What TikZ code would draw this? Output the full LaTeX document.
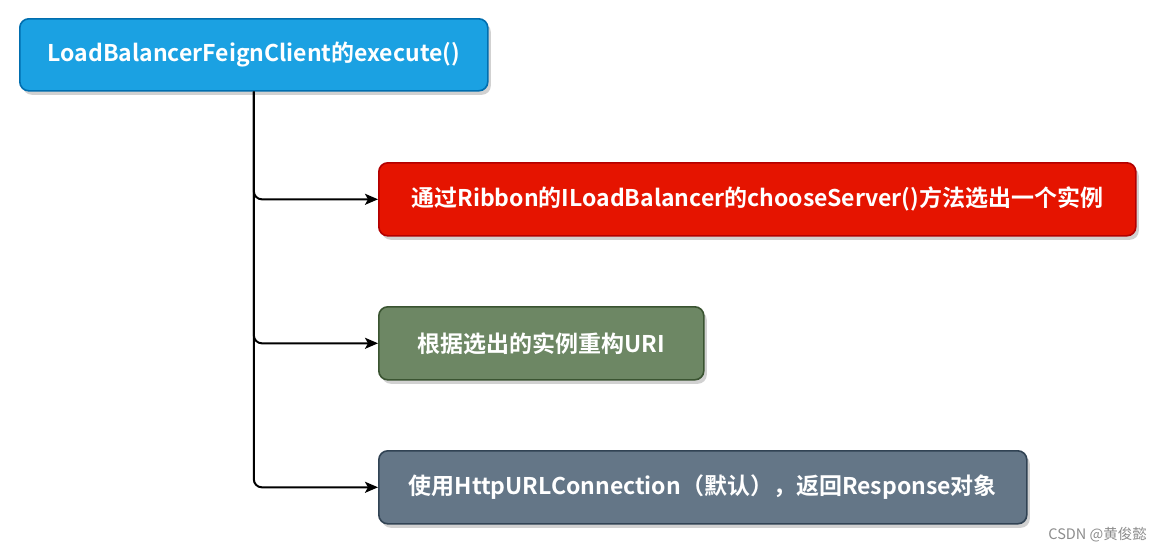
\documentclass[tikz,border=0pt]{standalone}
\usepackage{fontspec}
\setmainfont{Noto Sans CJK SC}[BoldFont={Noto Sans CJK SC Bold}]
\usetikzlibrary{shadows,arrows.meta}
\definecolor{bluefill}{HTML}{1BA1E2}
\definecolor{blueline}{HTML}{006EAF}
\definecolor{redfill}{HTML}{E51400}
\definecolor{redline}{HTML}{B20000}
\definecolor{greenfill}{HTML}{6D8764}
\definecolor{greenline}{HTML}{3A5431}
\definecolor{grayfill}{HTML}{647687}
\definecolor{grayline}{HTML}{314354}
\tikzset{
  box/.style={rounded corners=9pt, line width=1.6pt, minimum height=73pt, anchor=north west,
    inner sep=0pt, font=\fontsize{23}{26}\selectfont\bfseries, text=white,
    drop shadow={shadow xshift=3pt, shadow yshift=-4pt, opacity=0.3, fill=black!60}},
  conn/.style={-{Stealth[length=13pt,width=11pt,inset=3pt]}, line width=2pt, rounded corners=8pt}
}
\begin{document}
\begin{tikzpicture}[x=1pt,y=-1pt]
\useasboundingbox (0,0) rectangle (1163,552);
\node[box, fill=bluefill, draw=blueline, minimum width=468pt, minimum height=72pt] (top) at (19,18) {LoadBalancerFeignClient的execute()};
\node[box, fill=redfill, draw=redline, minimum width=757pt] (red) at (378,162) {通过Ribbon的ILoadBalancer的chooseServer()方法选出一个实例};
\node[box, fill=greenfill, draw=greenline, minimum width=325pt] (green) at (378,306) {根据选出的实例重构URI};
\node[box, fill=grayfill, draw=grayline, minimum width=648pt] (gray) at (378,450) {使用HttpURLConnection（默认），返回Response对象};
\draw[conn] (top.south) |- (red.west);
\draw[conn] (top.south) |- (green.west);
\draw[conn] (top.south) |- (gray.west);
\node[font=\fontsize{14.5}{16}\selectfont, text=black!45, anchor=east, inner sep=0pt] (wm) at (1147,535) {CSDN @黄俊懿};
\end{tikzpicture}
\end{document}
